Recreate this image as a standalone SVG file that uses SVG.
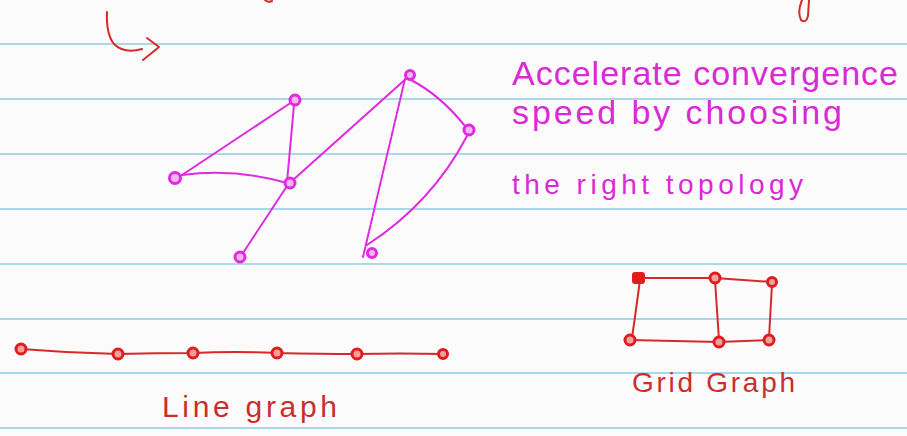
<svg xmlns="http://www.w3.org/2000/svg" width="907" height="436" viewBox="0 0 907 436">
<defs>
<style>
.rule{stroke:#a9d8e8;stroke-width:2}
.m{stroke:#df2adf;stroke-width:2;fill:none;stroke-linecap:round}
.mn{stroke:#df2adf;stroke-width:3;fill:#f6b6f2}
.r{stroke:#d62a2a;stroke-width:2;fill:none;stroke-linecap:round;stroke-linejoin:round}
.rn{stroke:#e01c1c;stroke-width:3;fill:#f2a0a0}
.tm{font-family:"Liberation Sans","DejaVu Sans",sans-serif;fill:#d92ad6}
.tr{font-family:"Liberation Sans","DejaVu Sans",sans-serif;fill:#c8302e}
</style>
</defs>
<rect width="907" height="436" fill="#fbfbfb"/>
<g id="rules">
<line class="rule" x1="0" y1="44" x2="907" y2="44"/>
<line class="rule" x1="0" y1="99" x2="907" y2="99"/>
<line class="rule" x1="0" y1="154" x2="907" y2="154"/>
<line class="rule" x1="0" y1="209" x2="907" y2="209"/>
<line class="rule" x1="0" y1="264" x2="907" y2="264"/>
<line class="rule" x1="0" y1="319" x2="907" y2="319"/>
<line class="rule" x1="0" y1="373" x2="907" y2="373"/>
<line class="rule" x1="0" y1="428" x2="907" y2="428"/>
</g>
<g id="top-marks">
<path class="r" d="M107 12 Q106 34 114 44 Q124 54 142 49 M147 38 L159 47 L143 60"/>
<path class="r" d="M265 0 Q268 3 272 1"/>
<path class="r" d="M802 0 Q797 12 801 20 Q806 24 808 16 L809 0"/>
</g>
<g id="connectors">
<path class="m" d="M182 175 L292 102"/>
<path class="m" d="M294 105 L287 182"/>
<path class="m" d="M182 175 Q235 168 287 183"/>
<path class="m" d="M287 186 L243 253"/>
<path class="m" d="M293 180 L408 77"/>
<path class="m" d="M405 79 L363 257" stroke-dasharray="6 1.5"/>
<path class="m" d="M411 80 Q440 95 465 126"/>
<path class="m" d="M467 136 Q432 203 367 245"/>
<path class="r" d="M21 349 Q70 353 118 354 Q155 353 193 353 Q235 351 277 353 Q320 354 357 354 Q400 353 443 354"/>
<path class="r" d="M639 278 L715 278 L772 282"/>
<path class="r" d="M630 340 L719 342 L769 340"/>
<path class="r" d="M640 280 Q636 310 632 338"/>
<path class="r" d="M715 280 L719 340"/>
<path class="r" d="M772 284 L769 338"/>
</g>
<g id="node-a"><circle class="mn" cx="295" cy="100" r="5"/></g>
<g id="node-b"><circle class="mn" cx="175" cy="178" r="5.5"/></g>
<g id="node-c"><circle class="mn" cx="290" cy="183" r="5"/></g>
<g id="node-d"><circle class="mn" cx="240" cy="257" r="5"/></g>
<g id="node-e"><circle class="mn" cx="410" cy="75" r="4.5"/></g>
<g id="node-f"><circle class="mn" cx="469" cy="130" r="5"/></g>
<g id="node-g"><circle class="mn" cx="372" cy="253" r="4.5"/></g>
<g id="line-n1"><circle class="rn" cx="21" cy="349" r="5"/></g>
<g id="line-n2"><circle class="rn" cx="118" cy="354" r="5"/></g>
<g id="line-n3"><circle class="rn" cx="193" cy="353" r="5"/></g>
<g id="line-n4"><circle class="rn" cx="277" cy="353" r="5"/></g>
<g id="line-n5"><circle class="rn" cx="357" cy="354" r="5"/></g>
<g id="line-n6"><circle class="rn" cx="443" cy="354" r="4.5"/></g>
<g id="grid-n1"><rect x="633" y="273" width="11" height="10" rx="2" fill="#e01c1c" stroke="#e01c1c" stroke-width="2"/></g>
<g id="grid-n2"><circle class="rn" cx="715" cy="278" r="5"/></g>
<g id="grid-n3"><circle class="rn" cx="772" cy="282" r="4.5"/></g>
<g id="grid-n4"><circle class="rn" cx="630" cy="340" r="5"/></g>
<g id="grid-n5"><circle class="rn" cx="719" cy="342" r="5"/></g>
<g id="grid-n6"><circle class="rn" cx="769" cy="340" r="5"/></g>
<g id="caption">
<text class="tm" x="512" y="85" font-size="34" textLength="386" lengthAdjust="spacing">Accelerate convergence</text>
<text class="tm" x="512" y="124" font-size="34" textLength="330" lengthAdjust="spacing">speed by choosing</text>
<text class="tm" x="512" y="194" font-size="28" textLength="291" lengthAdjust="spacing">the right topology</text>
</g>
<g id="labels">
<text class="tr" x="162" y="417" font-size="30" textLength="175" lengthAdjust="spacing">Line graph</text>
<text class="tr" x="632" y="392" font-size="28" textLength="163" lengthAdjust="spacing">Grid Graph</text>
</g>
</svg>
